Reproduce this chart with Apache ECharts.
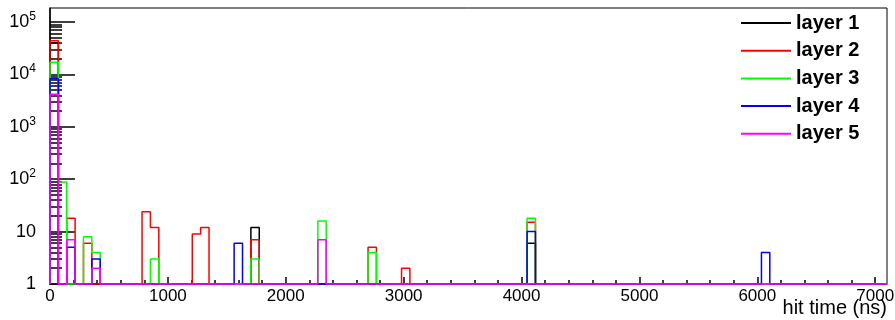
<!DOCTYPE html>
<html>
<head>
<meta charset="utf-8">
<script src="https://cdn.jsdelivr.net/npm/echarts@6/dist/echarts.min.js"></script>
<style>
  html, body { margin: 0; padding: 0; background: #fff; }
  #main { width: 895px; height: 320px; }
</style>
</head>
<body>
<div id="main"></div>
<script>
// histogram: 100 bins of 71 ns, 0 - 7100 ns
var binCount = 100;
var binWidth = 71;

var layerNames = ['layer 1', 'layer 2', 'layer 3', 'layer 4', 'layer 5'];
var layerColors = ['#000000', '#ff0000', '#00ff00', '#0000ff', '#ff00ff'];

// filled bins (bin index) and their counts, every other bin is empty
var layer1Bins = [0, 24, 57];
var layer1Counts = [40000, 12, 6];
var layer2Bins = [0, 2, 4, 11, 12, 17, 18, 24, 38, 42, 57];
var layer2Counts = [44000, 18, 6, 24, 12, 9, 12, 7, 5, 2, 15];
var layer3Bins = [0, 1, 4, 5, 12, 24, 32, 38, 57];
var layer3Counts = [17000, 88, 8, 4, 3, 3, 16, 4, 18];
var layer4Bins = [0, 2, 5, 22, 57, 85];
var layer4Counts = [8300, 5, 3, 6, 10, 4];
var layer5Bins = [0, 2, 5, 32];
var layer5Counts = [4200, 7, 2, 7];

var xTickLabels = [0, 1000, 2000, 3000, 4000, 5000, 6000, 7000];
var yTickLabels = [1, 10, 100, 1000, 10000, 100000];

var layerBins = [layer1Bins, layer2Bins, layer3Bins, layer4Bins, layer5Bins];
var layerCounts = [layer1Counts, layer2Counts, layer3Counts, layer4Counts, layer5Counts];

var yMin = 1;
var yMax = 185000;
var xMax = binCount * binWidth;

// outline of a histogram, empty bins sit on the axis minimum
function histData(bins, counts) {
    var h = [];
    for (var i = 0; i < binCount; i++) h.push(0);
    bins.forEach(function (b, k) { h[b] = counts[k]; });
    var pts = [[0, yMin]];
    for (var j = 0; j < binCount; j++) {
        pts.push([j * binWidth, Math.max(h[j], yMin)]);
    }
    pts.push([xMax, Math.max(h[binCount - 1], yMin)]);
    return pts;
}

// minor ticks
var yMinorTicks = [];
for (var k = 0; k < 5; k++) {
    for (var m = 2; m <= 9; m++) yMinorTicks.push(m * Math.pow(10, k));
}
var xMinorTicks = [];
for (var t = 0; t <= 7000; t += 200) xMinorTicks.push(t);

var font = 'Liberation Sans, Arial, sans-serif';

var series = layerNames.map(function (name, i) {
    return {
        name: name,
        type: 'line',
        step: 'end',
        symbol: 'none',
        clip: false,
        silent: true,
        color: layerColors[i],
        lineStyle: { color: layerColors[i], width: 1.5 },
        data: histData(layerBins[i], layerCounts[i])
    };
});

var chart = echarts.init(document.getElementById('main'));
chart.setOption({
    animation: false,
    backgroundColor: '#ffffff',
    title: {
        text: 'hit time (ns)',
        right: 8, bottom: 2, padding: 0,
        textStyle: { fontFamily: font, fontSize: 20, fontWeight: 'normal', color: '#000' }
    },
    grid: {
        left: 50, right: 8, top: 8, bottom: 36,
        show: true, borderColor: '#000', borderWidth: 1,
        containLabel: false, outerBoundsMode: 'none'
    },
    legend: {
        orient: 'vertical',
        left: 741, top: 13, padding: 0,
        itemWidth: 50, itemHeight: 2, itemGap: 7.7,
        icon: 'rect',
        selectedMode: false,
        textStyle: { fontFamily: font, fontWeight: 'bold', fontSize: 20, lineHeight: 20, color: '#000' },
        data: layerNames
    },
    xAxis: [{
        type: 'value', min: 0, max: xMax,
        axisLine: { lineStyle: { color: '#000', width: 1 } },
        axisTick: { inside: true, length: 7, customValues: xTickLabels, lineStyle: { color: '#000', width: 1.5 } },
        axisLabel: {
            customValues: xTickLabels, margin: 4, fontFamily: font, fontSize: 17, color: '#000',
            formatter: function (v) { return String(v); }
        },
        splitLine: { show: false }
    }, {
        type: 'value', min: 0, max: xMax, position: 'bottom',
        axisLine: { show: false },
        axisTick: { inside: true, length: 4, customValues: xMinorTicks, lineStyle: { color: '#000', width: 1.5 } },
        axisLabel: { show: false },
        splitLine: { show: false }
    }],
    yAxis: [{
        type: 'log', min: yMin, max: yMax,
        axisLine: { lineStyle: { color: '#000', width: 1.5 } },
        axisTick: { inside: true, length: 25, customValues: yTickLabels, lineStyle: { color: '#000', width: 1.5 } },
        axisLabel: {
            customValues: yTickLabels, margin: 14, fontFamily: font, color: '#000',
            formatter: function (v) {
                var e = Math.round(Math.log10(v));
                if (e === 0) return '{b|1}';
                if (e === 1) return '{b|10}';
                return '{b|10}{sup|' + e + '}';
            },
            rich: {
                b: { fontFamily: font, fontSize: 18, lineHeight: 23, color: '#000' },
                sup: { fontFamily: font, fontSize: 12, lineHeight: 11, verticalAlign: 'top', color: '#000' }
            }
        },
        splitLine: { show: false }
    }, {
        type: 'log', min: yMin, max: yMax, position: 'left',
        axisLine: { show: false },
        axisTick: { inside: true, length: 12, customValues: yMinorTicks, lineStyle: { color: '#000', width: 1.5 } },
        axisLabel: { show: false },
        splitLine: { show: false }
    }],
    series: series
});
</script>
</body>
</html>
